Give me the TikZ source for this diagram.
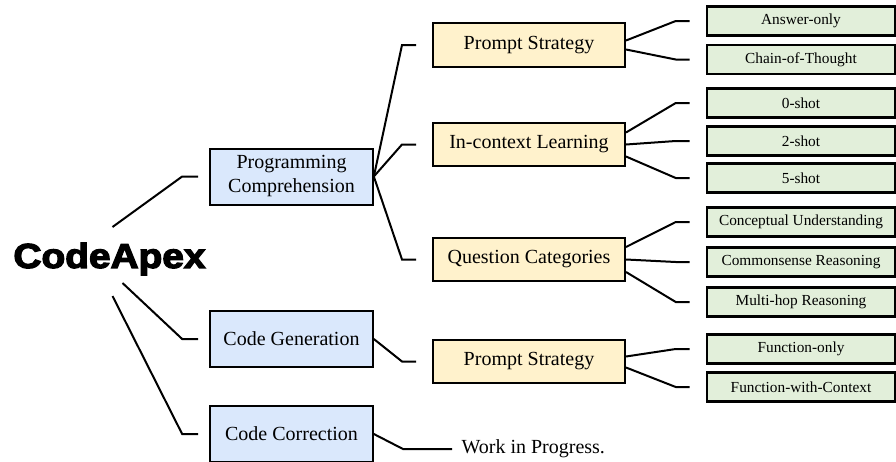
\documentclass[tikz,border=0pt]{standalone}
\usepackage{fontspec}
\usepackage{graphicx}
\setmainfont{Liberation Serif}
\newfontfamily\apexfont[FakeBold=3.5]{Liberation Sans Bold}
\definecolor{blueFill}{HTML}{DAE8FC}
\definecolor{yellowFill}{HTML}{FFF2CC}
\definecolor{greenFill}{HTML}{E2EFDA}
\begin{document}
\begin{tikzpicture}[x=0.75pt,y=-0.75pt,
	firstLevel/.style={rectangle, draw, line width=1.5pt, text centered, minimum width=122pt, minimum height=42pt, fill=blueFill, font=\fontsize{15}{18}\selectfont},
	secondLevel/.style={rectangle, draw, line width=1.5pt, text centered, minimum width=144pt, minimum height=32.5pt, fill=yellowFill, font=\fontsize{15}{18}\selectfont},
	thirdLevel/.style={rectangle, draw, line width=1.9pt, text centered, minimum width=141pt, minimum height=22pt, fill=greenFill, font=\fontsize{11.5}{13}\selectfont},
	branch/.style={line width=1.5pt}]
	
	\useasboundingbox (0,0) rectangle (896,461);
	
	%Root
	\node (codeApex) at (109.5,259) {\apexfont\fontsize{26}{30}\selectfont\scalebox{1.12}[1]{CodeApex}};
	\coordinate (apexUp) at ([shift={(3,-32)}]codeApex.center);
	\coordinate (apexDown) at ([shift={(13,24)}]codeApex.center);
	\coordinate (apexLow) at ([shift={(3,37)}]codeApex.center);
	
	%First level
	\node (progComp) at (291.5,176.5) [firstLevel, align=center] {Programming\\Comprehension};
	\node (codeGen) at (291.5,339) [firstLevel] {Code Generation};
	\node (codeCorr) at (291.5,434) [firstLevel] {Code Correction};
	
	%Second level
	\node (promptStrategy) at (529,45) [secondLevel] {Prompt Strategy};
	\node (inContext) at (529,144.5) [secondLevel] {In-context Learning};
	\node (questionCat) at (529,259.5) [secondLevel] {Question Categories};
	\node (promptStrategyGen) at (529,361.5) [secondLevel] {Prompt Strategy};
	\node (workProgress) at (452,449) [anchor=west, inner xsep=7pt, font=\fontsize{15}{18}\selectfont] {Work in Progress.};
	
	%Third level
	\node (answerOnly) at (801,21) [thirdLevel] {Answer-only};
	\node (chainThought) at (801,59.5) [thirdLevel] {Chain-of-Thought};
	\node (zeroShot) at (801,103) [thirdLevel] {0-shot};
	\node (twoShot) at (801,141) [thirdLevel] {2-shot};
	\node (fiveShot) at (801,178) [thirdLevel] {5-shot};
	\node (conceptual) at (801,222) [thirdLevel] {Conceptual Understanding};
	\node (commonsense) at (801,262) [thirdLevel] {Commonsense Reasoning};
	\node (multiHop) at (801,302) [thirdLevel] {Multi-hop Reasoning};
	\node (funcOnly) at (801,349) [thirdLevel] {Function-only};
	\node (funcContext) at (801,387) [thirdLevel] {Function-with-Context};
	
	%Root branches
	\draw[branch] (apexUp) -- ([shift={(-27,0)}]progComp.west) -- ([shift={(-11,0)}]progComp.west);
	\draw[branch] (apexDown) -- ([shift={(-27,0)}]codeGen.west) -- ([shift={(-11,0)}]codeGen.west);
	\draw[branch] (apexLow) -- ([shift={(-27,0)}]codeCorr.west) -- ([shift={(-11,0)}]codeCorr.west);
	
	%First level branches
	\draw[branch] (progComp.east) -- ([shift={(-30,0)}]promptStrategy.west) -- ([shift={(-16,0)}]promptStrategy.west);
	\draw[branch] (progComp.east) -- ([shift={(-30,0)}]inContext.west) -- ([shift={(-16,0)}]inContext.west);
	\draw[branch] (progComp.east) -- ([shift={(-30,0)}]questionCat.west) -- ([shift={(-16,0)}]questionCat.west);
	\draw[branch] (codeGen.east) -- ([shift={(-30,0)}]promptStrategyGen.west) -- ([shift={(-16,0)}]promptStrategyGen.west);
	\draw[branch] (codeCorr.east) -- ([shift={(-49,0)}]workProgress.west) -- (workProgress.west);
	
	%Second level branches
	\draw[branch] ([shift={(0,-4.5)}]promptStrategy.east) -- ([shift={(-30,0)}]answerOnly.west) -- ([shift={(-16,0)}]answerOnly.west);
	\draw[branch] ([shift={(0,4.5)}]promptStrategy.east) -- ([shift={(-30,0)}]chainThought.west) -- ([shift={(-16,0)}]chainThought.west);
	\draw[branch] ([shift={(0,-12)}]inContext.east) -- ([shift={(-30,0)}]zeroShot.west) -- ([shift={(-16,0)}]zeroShot.west);
	\draw[branch] (inContext.east) -- ([shift={(-30,0)}]twoShot.west) -- ([shift={(-16,0)}]twoShot.west);
	\draw[branch] ([shift={(0,12)}]inContext.east) -- ([shift={(-30,0)}]fiveShot.west) -- ([shift={(-16,0)}]fiveShot.west);
	\draw[branch] ([shift={(0,-12.5)}]questionCat.east) -- ([shift={(-30,0)}]conceptual.west) -- ([shift={(-16,0)}]conceptual.west);
	\draw[branch] (questionCat.east) -- ([shift={(-30,0)}]commonsense.west) -- ([shift={(-16,0)}]commonsense.west);
	\draw[branch] ([shift={(0,12.5)}]questionCat.east) -- ([shift={(-30,0)}]multiHop.west) -- ([shift={(-16,0)}]multiHop.west);
	\draw[branch] ([shift={(0,-5)}]promptStrategyGen.east) -- ([shift={(-30,0)}]funcOnly.west) -- ([shift={(-16,0)}]funcOnly.west);
	\draw[branch] ([shift={(0,6)}]promptStrategyGen.east) -- ([shift={(-30,0)}]funcContext.west) -- ([shift={(-16,0)}]funcContext.west);
	
\end{tikzpicture}
\end{document}
